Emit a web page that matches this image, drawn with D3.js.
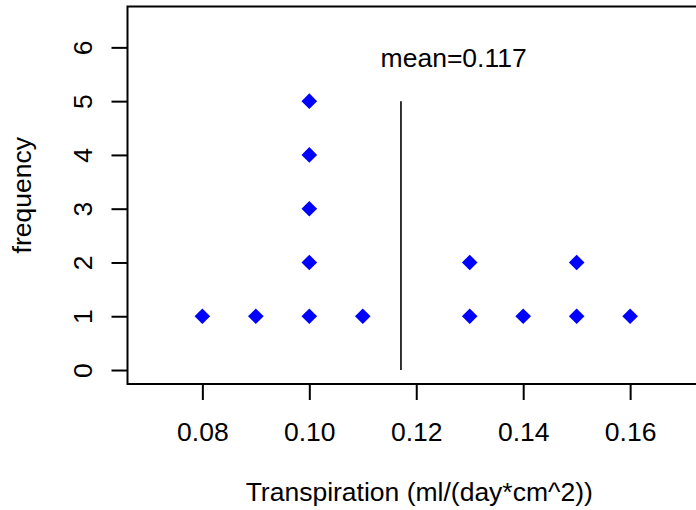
<!DOCTYPE html>
<html>
<head>
<meta charset="utf-8">
<script src="https://cdn.jsdelivr.net/npm/d3@7/dist/d3.min.js"></script>
<style>
  html, body { margin: 0; padding: 0; background: #fff; }
  svg { display: block; font-family: "Liberation Sans", Arial, sans-serif; }
</style>
</head>
<body>
<svg id="chart" width="696" height="510"></svg>
<script>
// Transpiration rates (ml/(day*cm^2)) and how many plants share each value
const rates = [0.08, 0.09, 0.10, 0.11, 0.13, 0.14, 0.15, 0.16];
const counts = [1, 1, 5, 1, 2, 1, 2, 1];
const xTicks = [0.08, 0.10, 0.12, 0.14, 0.16];
const yTicks = [0, 1, 2, 3, 4, 5, 6];

// Stack one point per observation
const dots = [];
rates.forEach((r, i) => { for (let k = 1; k <= counts[i]; k++) dots.push({ x: r, y: k }); });
const total = d3.sum(counts);
const mean = d3.sum(rates.map((r, i) => r * counts[i])) / total;

const svg = d3.select("#chart");
const fs = 26.5;
const font = "Liberation Sans, Arial, sans-serif";
const plot = { left: 127.5, right: 705, top: 6.5, bottom: 384 };

const x = d3.scaleLinear().domain([0.066, 0.174]).range([plot.left, plot.right]);
const y = d3.scaleLinear().domain([-0.26, 6.76]).range([plot.bottom, plot.top]);

// Bottom axis
const xAxis = svg.append("g").attr("transform", `translate(0,${plot.bottom})`)
  .call(d3.axisBottom(x).tickValues(xTicks).tickFormat(d3.format(".2f")).tickSize(16).tickSizeOuter(0));
xAxis.select(".domain").remove();
xAxis.selectAll(".tick line").attr("stroke", "#000").attr("stroke-width", 2);
xAxis.selectAll(".tick text").attr("y", 56.5).attr("dy", null)
  .attr("font-size", fs).attr("font-family", font).attr("fill", "#000");

// Left axis with rotated labels
const yAxis = svg.append("g").attr("transform", `translate(${plot.left},0)`)
  .call(d3.axisLeft(y).tickValues(yTicks).tickFormat(d3.format("d")).tickSize(16).tickSizeOuter(0));
yAxis.select(".domain").remove();
yAxis.selectAll(".tick line").attr("stroke", "#000").attr("stroke-width", 2);
yAxis.selectAll(".tick text")
  .attr("x", null).attr("dy", null).attr("y", null)
  .attr("transform", "translate(-35.5,0) rotate(-90)")
  .attr("text-anchor", "middle")
  .attr("font-size", fs).attr("font-family", font).attr("fill", "#000");

// Plot frame
svg.append("rect")
  .attr("x", plot.left).attr("y", plot.top)
  .attr("width", plot.right - plot.left).attr("height", plot.bottom - plot.top)
  .attr("fill", "none").attr("stroke", "#000").attr("stroke-width", 2);

// Mean line
svg.append("line")
  .attr("x1", x(mean)).attr("x2", x(mean))
  .attr("y1", y(0)).attr("y2", y(5))
  .attr("stroke", "#000").attr("stroke-width", 1.6);

svg.append("text")
  .attr("x", x(0.127)).attr("y", y(5.8) + 9)
  .attr("text-anchor", "middle").attr("font-size", fs)
  .text("mean=" + d3.format(".3f")(mean));

// Diamond markers
const diamond = d3.symbol().type(d3.symbolSquare).size(122);
svg.append("g").selectAll("path").data(dots).join("path")
  .attr("d", diamond)
  .attr("transform", d => `translate(${x(d.x)},${y(d.y)}) rotate(45)`)
  .attr("fill", "#0000ff");

// Axis titles
svg.append("text")
  .attr("x", (plot.left + plot.right) / 2 + 3).attr("y", 501)
  .attr("text-anchor", "middle").attr("font-size", fs)
  .text("Transpiration (ml/(day*cm^2))");

svg.append("text")
  .attr("transform", `translate(30.5,${(plot.top + plot.bottom) / 2}) rotate(-90)`)
  .attr("text-anchor", "middle").attr("font-size", fs)
  .text("frequency");
</script>
</body>
</html>
